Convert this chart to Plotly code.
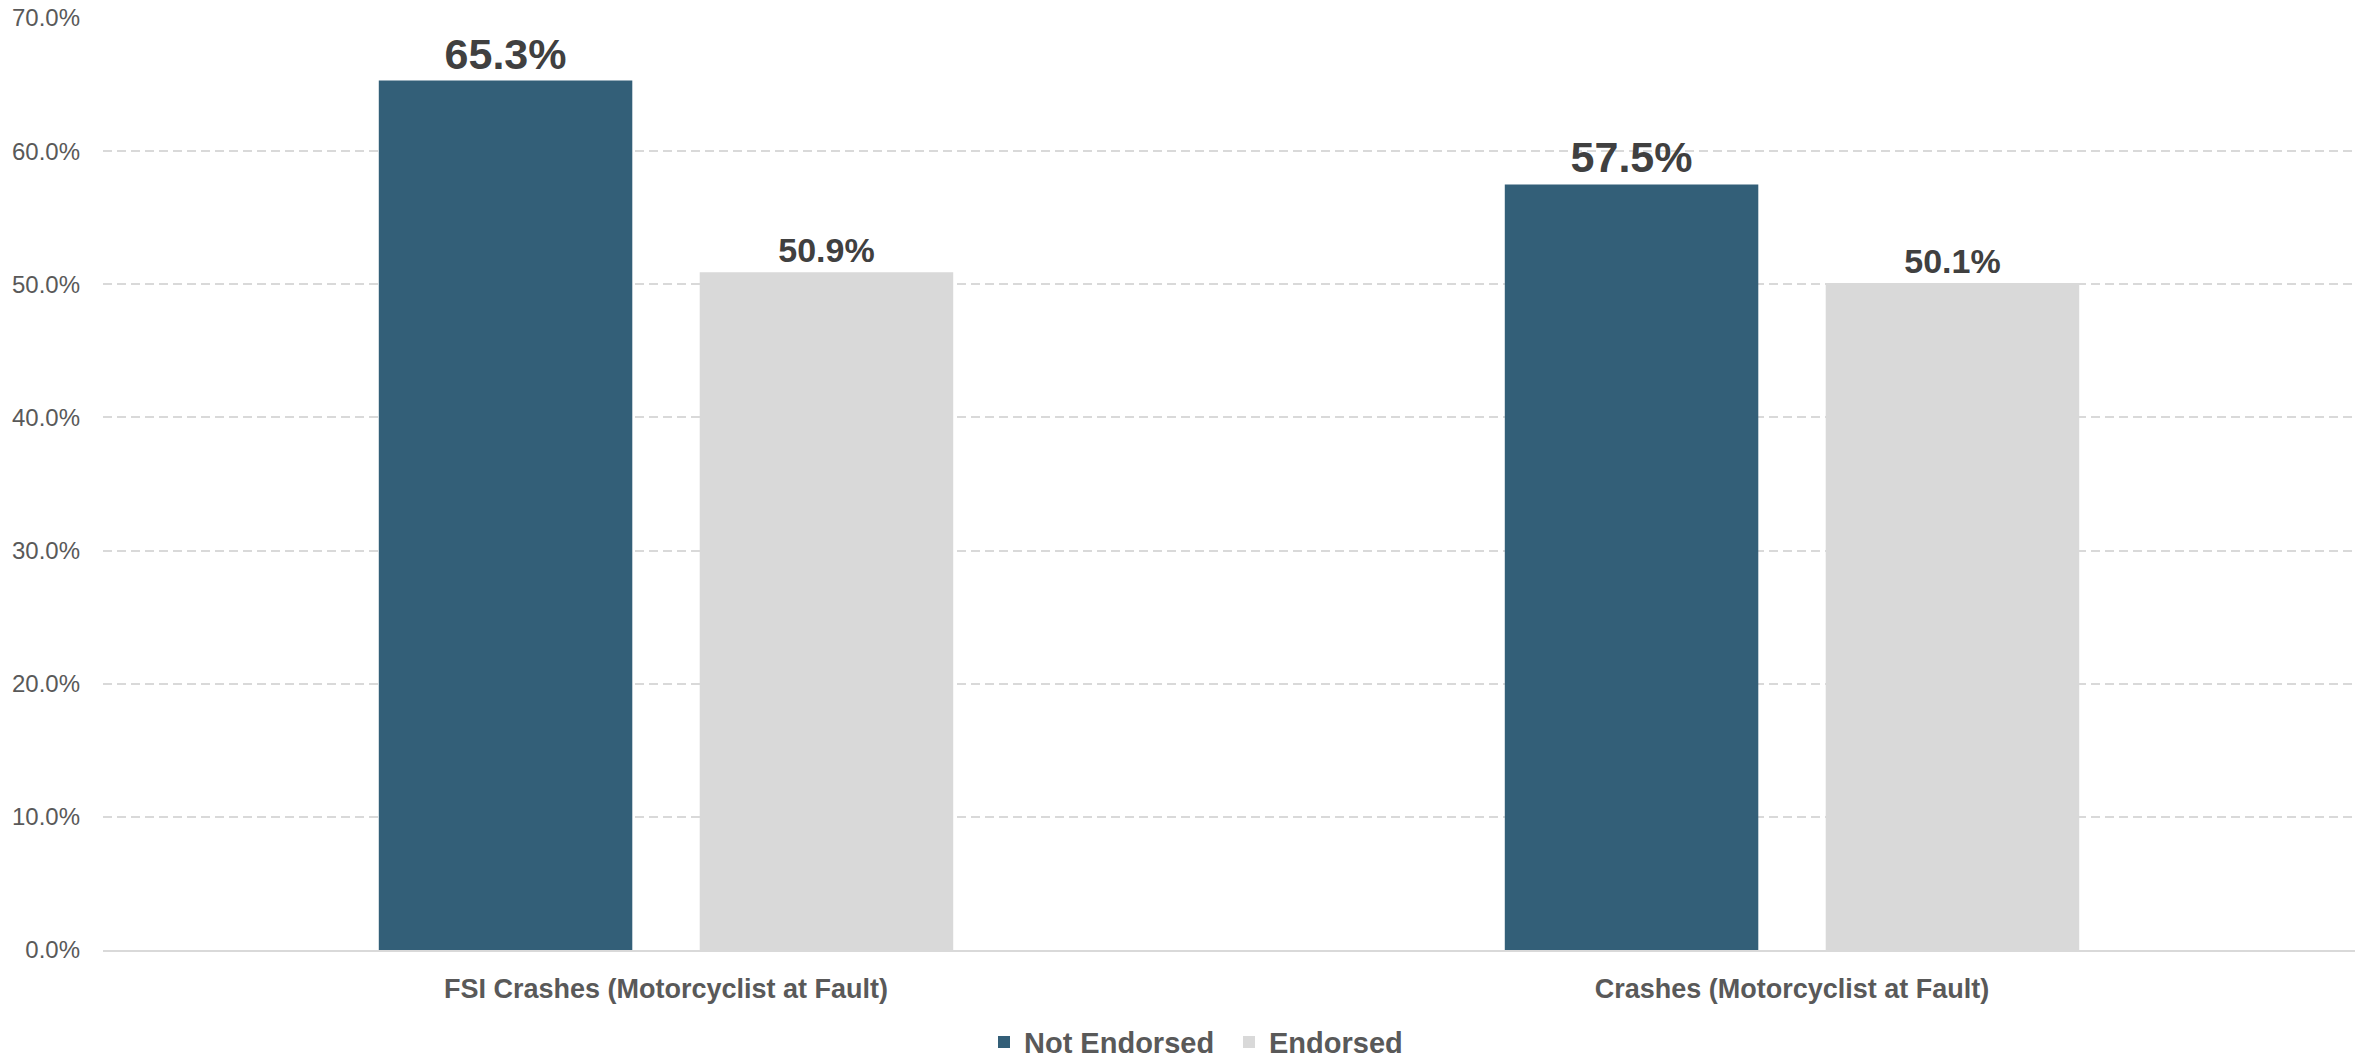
import plotly.graph_objects as go

categories = ["FSI Crashes (Motorcyclist at Fault)", "Crashes (Motorcyclist at Fault)"]
not_endorsed = [65.3, 57.5]
endorsed = [50.9, 50.1]
y_ticks = [0, 10, 20, 30, 40, 50, 60, 70]
y_tick_labels = [f"{v:.1f}%" for v in y_ticks]

FONT = "Liberation Sans, Arial, sans-serif"

fig = go.Figure()
fig.add_trace(go.Bar(
    name="Not Endorsed", x=categories, y=not_endorsed,
    marker=dict(color="#335F78", line=dict(width=0)),
    texttemplate="%{y:.1f}%", textposition="outside",
    textfont=dict(family=FONT, size=43, color="#404040", weight="bold"),
    cliponaxis=False,
))
fig.add_trace(go.Bar(
    name="Endorsed", x=categories, y=endorsed,
    marker=dict(color="#D9D9D9", line=dict(width=0)),
    texttemplate="%{y:.1f}%", textposition="outside",
    textfont=dict(family=FONT, size=34, color="#404040", weight="bold"),
    cliponaxis=False,
))

fig.update_layout(
    width=2367, height=1061,
    margin=dict(l=103, r=12, t=18, b=111, autoexpand=False),
    paper_bgcolor="white", plot_bgcolor="white",
    barmode="group", bargap=0.43, bargroupgap=0.21,
    font=dict(family=FONT, color="#595959"),
    showlegend=True,
    legend=dict(
        orientation="h", x=0.5, xanchor="center", y=-0.099, yanchor="middle",
        font=dict(family=FONT, size=29, color="#595959", weight="bold"),
        traceorder="normal", entrywidth=200,
    ),
    xaxis=dict(
        automargin=False,
        showgrid=False, showline=True, linecolor="#D9D9D9", linewidth=2,
        ticks="", ticklabelstandoff=14,
        tickfont=dict(family=FONT, size=27, color="#595959", weight="bold"),
    ),
    yaxis=dict(
        automargin=False,
        range=[0, 70], tickvals=y_ticks, ticktext=y_tick_labels,
        showgrid=True, gridcolor="#D9D9D9", gridwidth=2, griddash="9px,5px",
        zeroline=False, showline=False, ticks="", ticklabelstandoff=22,
        tickfont=dict(family=FONT, size=24, color="#595959"),
    ),
)

fig.write_html("out.html")
